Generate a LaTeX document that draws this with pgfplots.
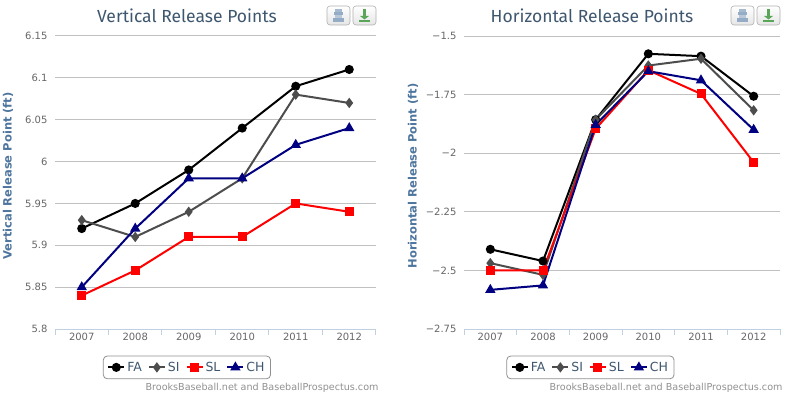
\documentclass[border=0pt]{standalone}
\usepackage{fontspec}
\setmainfont{Fira Sans}
\newfontfamily\credfont{DejaVu Sans}
\usepackage{pgfplots}
\pgfplotsset{compat=1.18}
\definecolor{gridc}{HTML}{C0C0C0}
\definecolor{axisc}{HTML}{C0D0E0}
\definecolor{titlec}{HTML}{3E576F}
\definecolor{labc}{HTML}{4D759E}
\definecolor{tickc}{HTML}{666666}
\definecolor{sic}{HTML}{4D4D4D}
\definecolor{chc}{HTML}{000080}
\definecolor{credc}{HTML}{909090}
\definecolor{btnb}{HTML}{B0B0B0}
\pgfplotsset{
 rp/.style={
  scale only axis, height=293pt,
  xmin=-0.5, xmax=5.5,
  xtick={0,...,5}, xticklabels={2007,2008,2009,2010,2011,2012},
  minor xtick={-0.5,0.5,1.5,2.5,3.5,4.5,5.5},
  major tick length=0pt, minor tick length=6pt,
  tick align=outside,
  axis x line*=bottom, axis y line*=left,
  y axis line style={draw=none},
  x axis line style={draw=axisc, line width=1pt, -},
  every minor tick/.style={draw=axisc, line width=1pt},
  ymajorgrids, grid style={draw=gridc, line width=1pt},
  tick label style={font=\credfont\fontsize{10}{12}\selectfont, text=tickc},
  yticklabel style={xshift=-4pt},
  xticklabel style={yshift=-1pt},
  /pgf/number format/assume math mode=true,
  clip=false,
  legend columns=4,
  legend style={draw=credc, line width=0.8pt, rounded corners=4pt,
    font=\credfont\fontsize{12.5}{14}\selectfont, text=titlec, inner xsep=4pt, inner ysep=4pt,
    /tikz/every even column/.append style={column sep=4pt}},
  legend image code/.code={\draw[mark repeat=2,mark phase=2,#1] plot coordinates {(0pt,0pt)(8pt,0pt)(16pt,0pt)};},
 },
 fa/.style={black, line width=2pt, mark=*, mark size=3.5pt, mark options={solid}},
 si/.style={sic, line width=2pt, mark=diamond*, mark size=3.6pt, mark options={solid}},
 sl/.style={red, line width=2pt, mark=square*, mark size=3.5pt, mark options={solid}},
 ch/.style={chc, line width=2pt, mark=triangle*, mark size=4pt, mark options={solid}},
}
\newcommand{\btns}[2]{%
 \draw[btnb, rounded corners=3pt, top color=white, bottom color=gray!20, line width=0.6pt] (#1,375) rectangle ++(23,19);
 \draw[btnb, rounded corners=3pt, top color=white, bottom color=gray!20, line width=0.6pt] (#2,375) rectangle ++(23,19);
 \fill[labc!60] (#1+6,378) rectangle ++(11,4);
 \fill[labc!40] (#1+8,382) rectangle ++(7,3);
 \fill[labc!60] (#1+7,385) rectangle ++(9,3);
 \fill[labc!50] (#1+8,388) rectangle ++(7,3);
 \fill[green!30!gray] (#2+6,378) rectangle ++(11,2);
 \fill[green!30!gray] (#2+10,384) rectangle ++(3,7);
 \fill[green!30!gray] (#2+7,384) -- (#2+16,384) -- (#2+11.5,380.5) -- cycle;
}
\begin{document}
\begin{tikzpicture}[x=1pt,y=1pt]
\useasboundingbox (0,0) rectangle (808,400);
% left chart
\node[font=\fontsize{17.5}{20}\selectfont, text=titlec] at (187,384) {Vertical Release Points};
\node[rotate=90, font=\credfont\bfseries\fontsize{11.5}{13}\selectfont, text=labc] at (8,224) {Vertical Release Point (ft)};
\btns{327}{353}
\begin{axis}[rp, at={(55pt,71pt)}, anchor=south west, width=321pt,
  ymin=5.8, ymax=6.15, ytick={5.8,5.85,5.9,5.95,6,6.05,6.1,6.15},
  yticklabels={5.8,5.85,5.9,5.95,6,6.05,6.1,6.15},
  legend style={at={(0.411,-0.131)}, anchor=center}]
\addplot[fa] coordinates {(0,5.92)(1,5.95)(2,5.99)(3,6.04)(4,6.09)(5,6.11)};
\addplot[si] coordinates {(0,5.93)(1,5.91)(2,5.94)(3,5.98)(4,6.08)(5,6.07)};
\addplot[sl] coordinates {(0,5.84)(1,5.87)(2,5.91)(3,5.91)(4,5.95)(5,5.94)};
\addplot[ch] coordinates {(0,5.85)(1,5.92)(2,5.98)(3,5.98)(4,6.02)(5,6.04)};
\legend{FA,SI,SL,CH}
\end{axis}
\node[font=\credfont\fontsize{9.6}{12}\selectfont, text=credc] at (262,12) {BrooksBaseball.net and BaseballProspectus.com};
% right chart
\node[font=\fontsize{17.5}{20}\selectfont, text=titlec] at (592,384) {Horizontal Release Points};
\node[rotate=90, font=\credfont\bfseries\fontsize{11.5}{13}\selectfont, text=labc] at (413,224) {Horizontal Release Point (ft)};
\btns{731}{757}
\begin{axis}[rp, at={(464pt,71pt)}, anchor=south west, width=316pt,
  ymin=-2.75, ymax=-1.5, ytick={-2.75,-2.5,-2.25,-2,-1.75,-1.5},
  yticklabels={−2.75,−2.5,−2.25,−2,−1.75,−1.5},
  legend style={at={(0.400,-0.131)}, anchor=center}]
\addplot[fa] coordinates {(0,-2.41)(1,-2.46)(2,-1.857)(3,-1.576)(4,-1.586)(5,-1.757)};
\addplot[si] coordinates {(0,-2.469)(1,-2.519)(2,-1.857)(3,-1.626)(4,-1.597)(5,-1.817)};
\addplot[sl] coordinates {(0,-2.5)(1,-2.5)(2,-1.896)(3,-1.646)(4,-1.747)(5,-2.039)};
\addplot[ch] coordinates {(0,-2.583)(1,-2.564)(2,-1.879)(3,-1.65)(4,-1.689)(5,-1.9)};
\legend{FA,SI,SL,CH}
\end{axis}
\node[font=\credfont\fontsize{9.6}{12}\selectfont, text=credc] at (666,12) {BrooksBaseball.net and BaseballProspectus.com};
\end{tikzpicture}
\end{document}
